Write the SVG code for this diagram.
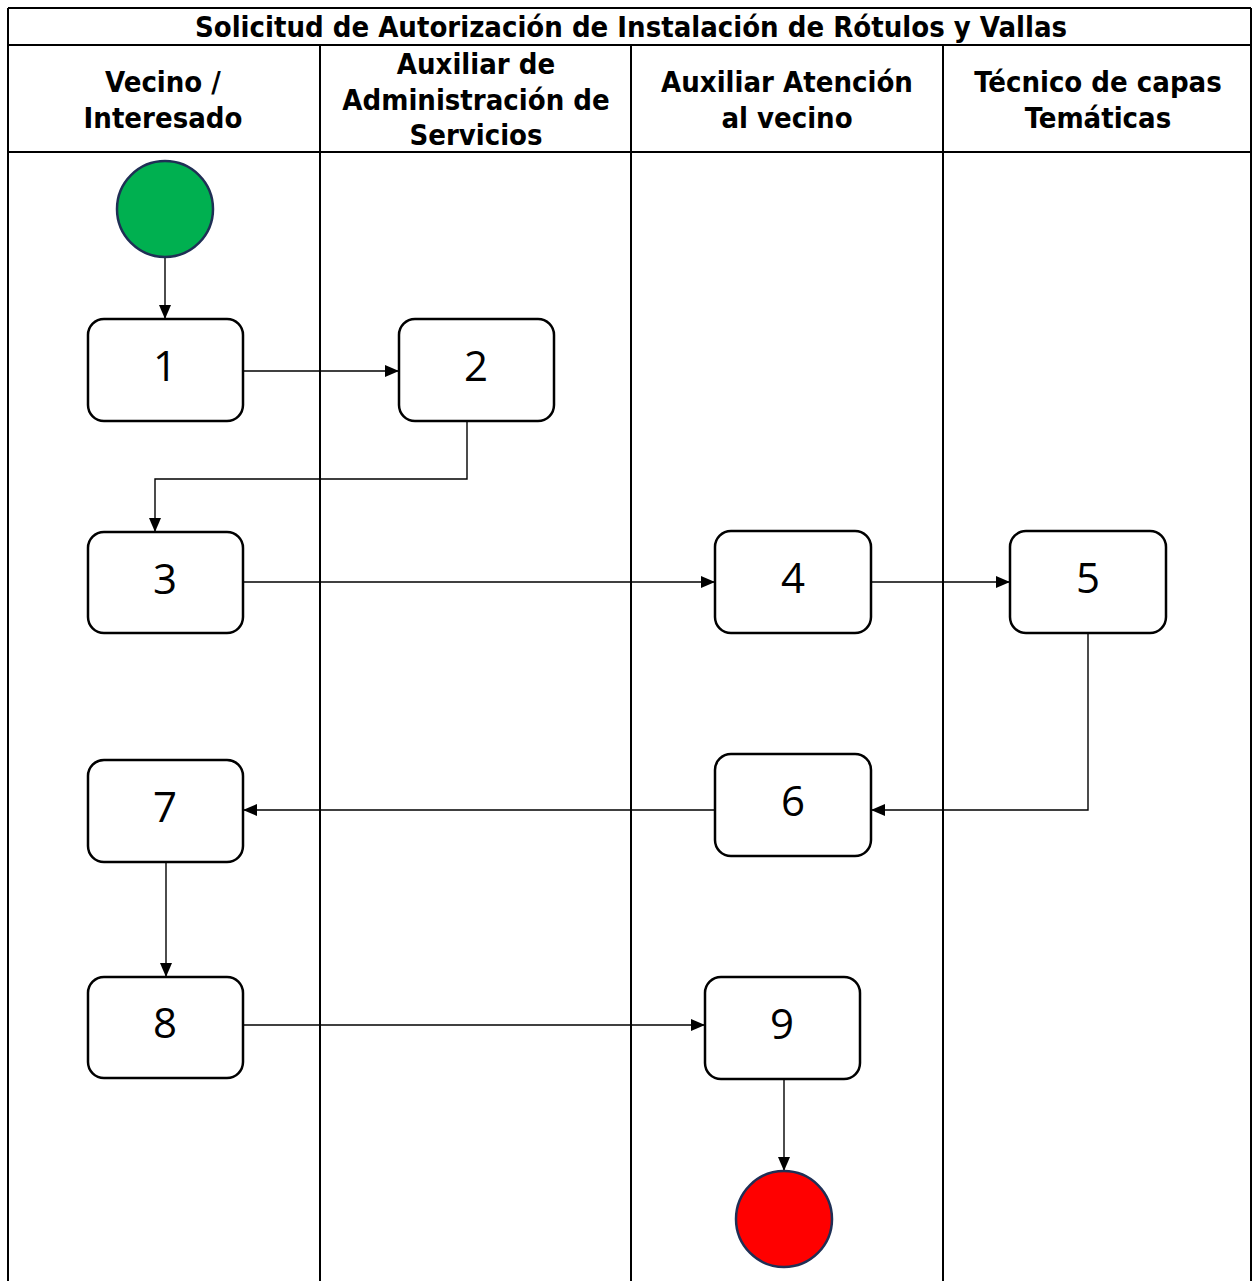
<svg xmlns="http://www.w3.org/2000/svg" width="1252" height="1281" viewBox="0 0 1252 1281">
<style>
.grid{stroke:#000;stroke-width:2;fill:none}
.hdr{font-family:"DejaVu Sans Condensed","DejaVu Sans",sans-serif;font-weight:bold;font-size:29px;fill:#000;text-anchor:middle}
.box{fill:#fff;stroke:#000;stroke-width:2.5}
.num{font-family:"Open Sans","Noto Sans",sans-serif;font-size:42px;fill:#000;text-anchor:middle}
.conn{stroke:#000;stroke-width:1.4;fill:none;marker-end:url(#arr)}
</style>
<defs>
<marker id="arr" markerWidth="14" markerHeight="12" refX="14" refY="6" orient="auto" markerUnits="userSpaceOnUse">
<path d="M0,0 L14,6 L0,12 Z" fill="#000"/>
</marker>
</defs>
<rect width="1252" height="1281" fill="#fff"/>
<g id="table">
<line class="grid" x1="8" y1="8" x2="1251" y2="8"/>
<line class="grid" x1="8" y1="45" x2="1251" y2="45"/>
<line class="grid" x1="8" y1="152" x2="1251" y2="152"/>
<line class="grid" x1="8" y1="8" x2="8" y2="1281"/>
<line class="grid" x1="320" y1="45" x2="320" y2="1281"/>
<line class="grid" x1="631" y1="45" x2="631" y2="1281"/>
<line class="grid" x1="943" y1="45" x2="943" y2="1281"/>
<line class="grid" x1="1251" y1="8" x2="1251" y2="1281"/>
<text class="hdr" x="631" y="37">Solicitud de Autorización de Instalación de Rótulos y Vallas</text>
<text class="hdr" x="163" y="92">Vecino /</text>
<text class="hdr" x="163" y="128">Interesado</text>
<text class="hdr" x="476" y="74">Auxiliar de</text>
<text class="hdr" x="476" y="110">Administración de</text>
<text class="hdr" x="476" y="145">Servicios</text>
<text class="hdr" x="787" y="92">Auxiliar Atención</text>
<text class="hdr" x="787" y="128">al vecino</text>
<text class="hdr" x="1098" y="92">Técnico de capas</text>
<text class="hdr" x="1098" y="128">Temáticas</text>
</g>
<g id="connectors">
<line class="conn" x1="165" y1="257" x2="165" y2="319"/>
<line class="conn" x1="243" y1="371" x2="399" y2="371"/>
<polyline class="conn" points="467,421 467,479 155,479 155,532"/>
<line class="conn" x1="243" y1="582" x2="715" y2="582"/>
<line class="conn" x1="871" y1="582" x2="1010" y2="582"/>
<polyline class="conn" points="1088,633 1088,810 871,810"/>
<line class="conn" x1="715" y1="810" x2="243" y2="810"/>
<line class="conn" x1="166" y1="862" x2="166" y2="977"/>
<line class="conn" x1="243" y1="1025" x2="705" y2="1025"/>
<line class="conn" x1="784" y1="1079" x2="784" y2="1171"/>
</g>
<g id="start"><circle cx="165" cy="209" r="48" fill="#00B050" stroke="#1F2F55" stroke-width="2.5"/></g>
<g id="n1"><rect class="box" x="88" y="319" width="155" height="102" rx="16"/><text class="num" x="165" y="381">1</text></g>
<g id="n2"><rect class="box" x="399" y="319" width="155" height="102" rx="16"/><text class="num" x="476" y="381">2</text></g>
<g id="n3"><rect class="box" x="88" y="532" width="155" height="101" rx="16"/><text class="num" x="165" y="594">3</text></g>
<g id="n4"><rect class="box" x="715" y="531" width="156" height="102" rx="16"/><text class="num" x="793" y="593">4</text></g>
<g id="n5"><rect class="box" x="1010" y="531" width="156" height="102" rx="16"/><text class="num" x="1088" y="593">5</text></g>
<g id="n6"><rect class="box" x="715" y="754" width="156" height="102" rx="16"/><text class="num" x="793" y="816">6</text></g>
<g id="n7"><rect class="box" x="88" y="760" width="155" height="102" rx="16"/><text class="num" x="165" y="822">7</text></g>
<g id="n8"><rect class="box" x="88" y="977" width="155" height="101" rx="16"/><text class="num" x="165" y="1038">8</text></g>
<g id="n9"><rect class="box" x="705" y="977" width="155" height="102" rx="16"/><text class="num" x="782" y="1039">9</text></g>
<g id="end"><circle cx="784" cy="1219" r="48" fill="#FF0000" stroke="#1F2F55" stroke-width="2.5"/></g>
</svg>
